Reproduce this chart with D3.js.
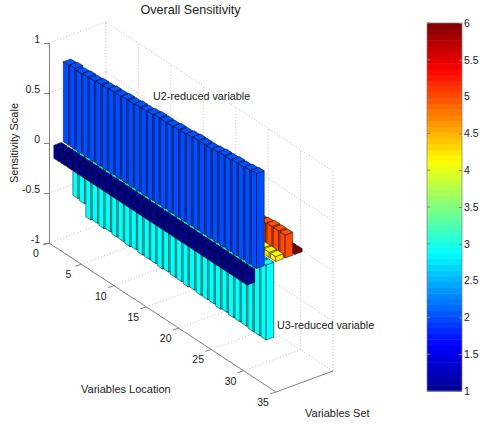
<!DOCTYPE html>
<html>
<head>
<meta charset="utf-8">
<script src="https://cdn.jsdelivr.net/npm/d3@7"></script>
<style>
  html, body { margin: 0; padding: 0; background: #fff; }
  text { font-family: "Liberation Sans", Arial, sans-serif; fill: #222; }
</style>
</head>
<body>
<svg id="chart" width="480" height="424"></svg>
<script>
// values, one array per variable set, locations 1..30
var locations = d3.range(1, 31);
var set1Values = [-0.13,-0.13,-0.13,-0.13,-0.13,-0.13,-0.13,-0.13,-0.13,-0.13,-0.13,-0.13,-0.13,-0.13,-0.13,-0.13,-0.13,-0.13,-0.13,-0.13,-0.13,-0.13,-0.13,-0.13,-0.13,-0.13,-0.13,-0.13,-0.13,-0.13];
var set2Values = [0.80,0.81,0.80,0.81,0.81,0.82,0.82,0.83,0.83,0.84,0.84,0.85,0.85,0.86,0.87,0.87,0.87,0.88,0.88,0.89,0.90,0.90,0.90,0.91,0.92,0.92,0.93,0.93,0.94,0.95];
var set3Values = [-0.57,-0.58,-0.70,-0.69,-0.70,-0.69,-0.70,-0.70,-0.71,-0.70,-0.71,-0.71,-0.71,-0.72,-0.71,-0.72,-0.72,-0.73,-0.72,-0.73,-0.73,-0.73,-0.74,-0.73,-0.74,-0.74,-0.74,-0.75,-0.75,-0.75];
var set4Values = [0.05,0.05,0.05,0.05,0.05,0.05,0.05,0.05,0.05,0.05,0.05,0.05,0.05,0.05,0.05,0.05,0.05,0.05,0.05,0.05,0.05,0.05,0.05,0.05,0.05,0.05,0.05,0.05,0.05,0.05];
var set5Values = [0.22,0.22,0.22,0.22,0.22,0.22,0.22,0.22,0.22,0.22,0.22,0.22,0.22,0.22,0.22,0.22,0.22,0.22,0.22,0.22,0.22,0.22,0.22,0.22,0.22,0.21,0.22,0.23,0.23,0.23];
var set6Values = [0.03,0.03,0.03,0.03,0.03,0.03,0.03,0.03,0.03,0.03,0.03,0.03,0.03,0.03,0.03,0.03,0.03,0.03,0.03,0.03,0.03,0.03,0.03,0.03,0.03,0.03,0.03,0.03,0.03,0.03];
var setNumbers = [1, 2, 3, 4, 5, 6];
var setColorValues = [1, 2, 2.9, 4.2, 5, 6];
var setValues = [set1Values, set2Values, set3Values, set4Values, set5Values, set6Values];

var xTicks = [0, 5, 10, 15, 20, 25, 30, 35];
var zTicks = [-1, -0.5, 0, 0.5, 1];
var zTickLabels = ['-1', '-0.5', '0', '0.5', '1'];
var colorTicks = [1, 1.5, 2, 2.5, 3, 3.5, 4, 4.5, 5, 5.5, 6];

var jetStops = [0, 0.125, 0.375, 0.625, 0.875, 1];
var jetColors = ['#00008f', '#0000ff', '#00ffff', '#ffff00', '#ff0000', '#800000'];

var svg = d3.select('#chart');

// the picture is an oblique view, so each data axis gets its own screen offset
var xToPx = d3.scaleLinear().domain([0, 35]).range([0, 227]);
var xToPy = d3.scaleLinear().domain([0, 35]).range([0, 149]);
var yToPx = d3.scaleLinear().domain([0.5, 6.5]).range([0, 57]);
var yToPy = d3.scaleLinear().domain([0.5, 6.5]).range([0, -21]);
var zScale = d3.scaleLinear().domain([-1, 1]).range([243, 43]);
var originX = 49;
var yMin = 0.5, yMax = 6.5;

function project(x, y, z) {
  return [originX + xToPx(x) + yToPx(y), zScale(z) + xToPy(x) + yToPy(y)];
}

var jet = d3.scaleLinear().domain(jetStops).range(jetColors).interpolate(d3.interpolateRgb);
var setColor = d3.scaleLinear().domain([1, 6]).range([0, 1]);

var poly = d3.line();
function face(g, pts, fill) {
  g.append('path')
    .attr('d', poly(pts) + 'Z')
    .attr('fill', fill)
    .attr('stroke', '#000')
    .attr('stroke-opacity', 0.6)
    .attr('stroke-width', 0.8)
    .attr('stroke-linejoin', 'round');
}

// grid
var grid = svg.append('g')
  .attr('fill', 'none')
  .attr('stroke', '#b4b4b4')
  .attr('stroke-width', 0.8)
  .attr('stroke-dasharray', '1,2');

function gridLine(a, b) {
  grid.append('path').attr('d', poly([a, b]));
}

zTicks.forEach(function(z) {
  gridLine(project(0, yMin, z), project(0, yMax, z));
  gridLine(project(0, yMax, z), project(35, yMax, z));
});
xTicks.forEach(function(x) {
  gridLine(project(x, yMax, -1), project(x, yMax, 1));
  if (x > 0 && x < 35) gridLine(project(x, yMin, -1), project(x, yMax, -1));
});

// bars, painted back to front
var barWidth = 0.4;
var bars = svg.append('g');
for (var s = setNumbers.length - 1; s >= 0; s--) {
  var setNo = setNumbers[s];
  var base = jet(setColor(setColorValues[s]));
  var topColor = d3.rgb(base).brighter(0.15).formatHex();
  locations.forEach(function(loc, i) {
    var v = setValues[s][i];
    var x0 = loc - barWidth, x1 = loc + barWidth;
    var y0 = setNo - barWidth, y1 = setNo + barWidth;
    var hi = Math.max(v, 0), lo = Math.min(v, 0);
    var g = bars.append('g');
    // low-y face
    face(g, [project(x0, y0, lo), project(x1, y0, lo), project(x1, y0, hi), project(x0, y0, hi)], base);
    // high-x face
    face(g, [project(x1, y0, lo), project(x1, y1, lo), project(x1, y1, hi), project(x1, y0, hi)], base);
    // top
    face(g, [project(x0, y0, hi), project(x1, y0, hi), project(x1, y1, hi), project(x0, y1, hi)], topColor);
  });
}

// axes
var axisColor = '#808080';
var zAxis = d3.axisLeft(zScale)
  .tickValues(zTicks)
  .tickSize(5)
  .tickPadding(4)
  .tickFormat(function(d, i) { return zTickLabels[i]; });
var zG = svg.append('g').attr('transform', 'translate(' + originX + ',0)').call(zAxis);
zG.selectAll('line, path').attr('stroke', axisColor);
zG.selectAll('text').attr('font-size', 10.5).attr('fill', '#222').attr('dy', '-0.05em');

var axes3d = svg.append('g').attr('fill', 'none').attr('stroke', axisColor);
axes3d.append('path').attr('d', poly([project(0, yMin, -1), project(35, yMin, -1), project(35, yMax, -1)]));

xTicks.forEach(function(x) {
  var p = project(x, yMin, -1);
  axes3d.append('path').attr('d', poly([p, [p[0] - 6, p[1] + 2]]));
  svg.append('text')
    .attr('x', p[0] - 13)
    .attr('y', p[1] + 14)
    .attr('text-anchor', 'middle')
    .attr('font-size', 10.5)
    .text(x);
});

// labels
function label(txt, x, y, size, anchor) {
  return svg.append('text')
    .attr('x', x).attr('y', y)
    .attr('font-size', size)
    .attr('text-anchor', anchor || 'start')
    .text(txt);
}
label('Overall Sensitivity', 190.5, 14, 12.6, 'middle');
label('Variables Location', 81, 393, 11);
label('Variables Set', 305, 417, 11);
label('U2-reduced variable', 153, 100, 10.8);
label('U3-reduced variable', 277, 329, 10.8);
svg.append('text')
  .attr('transform', 'translate(18,143) rotate(-90)')
  .attr('font-size', 11)
  .attr('text-anchor', 'middle')
  .text('Sensitivity Scale');

// colorbar
var cbX = 427, cbW = 35;
var cbScale = d3.scaleLinear().domain([1, 6]).range([391, 23]);
var levels = d3.range(64);
svg.append('g').selectAll('rect').data(levels).enter().append('rect')
  .attr('x', cbX)
  .attr('width', cbW)
  .attr('y', function(d) { return cbScale(1 + 5 * (d + 1) / 64); })
  .attr('height', function(d) { return cbScale(1 + 5 * d / 64) - cbScale(1 + 5 * (d + 1) / 64) + 0.5; })
  .attr('fill', function(d) { return jet((d + 0.5) / 64); });

svg.append('rect')
  .attr('x', cbX).attr('y', 23).attr('width', cbW).attr('height', 368)
  .attr('fill', 'none').attr('stroke', axisColor).attr('stroke-width', 0.7);

var cbAxis = d3.axisRight(cbScale).tickValues(colorTicks).tickSize(-3).tickPadding(2)
  .tickFormat(function(d) { return d; });
var cbG = svg.append('g').attr('transform', 'translate(' + (cbX + cbW) + ',0)').call(cbAxis);
cbG.select('.domain').remove();
cbG.selectAll('line').attr('stroke', axisColor);
cbG.selectAll('text').attr('font-size', 10.5).attr('fill', '#222');
// ticks on the left side of the bar too
svg.append('g').selectAll('line').data(colorTicks).enter().append('line')
  .attr('x1', cbX).attr('x2', cbX + 3)
  .attr('y1', function(d) { return cbScale(d); })
  .attr('y2', function(d) { return cbScale(d); })
  .attr('stroke', axisColor);
</script>
</body>
</html>
